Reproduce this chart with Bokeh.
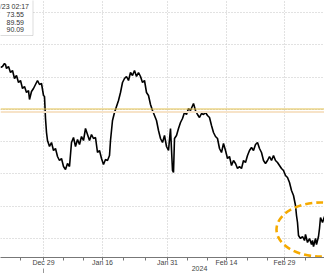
from bokeh.plotting import figure
from bokeh.models import Range1d, FixedTicker, BoxAnnotation, Label, Span, LinearAxis
from bokeh.embed import file_html
from bokeh.resources import INLINE

# ---- data (x = 4-hour bar index, y = price level in index points) ----
bars = [0, 2, 4, 5, 6, 8, 10, 12, 14, 16, 18, 20, 22, 24, 26, 28, 29, 31, 33, 35,
        37, 39, 41, 43, 44, 45, 46, 47, 49, 51, 53, 55, 57, 59, 61, 63, 65, 67, 69, 71,
        73, 75, 77, 79, 81, 83, 85, 87, 89, 91, 93, 95, 97, 99, 101, 103, 105, 107, 109, 110,
        112, 114, 116, 118, 120, 122, 124, 126, 128, 130, 132, 134, 136, 138, 140, 142, 144, 146, 148, 150,
        152, 154, 156, 158, 160, 162, 164, 166, 168, 170, 172, 173, 174, 176, 178, 180, 182, 184, 186, 188,
        190, 193, 195, 197, 199, 201, 203, 205, 207, 209, 211, 213, 215, 217, 219, 221, 223, 225, 227, 229,
        231, 233, 235, 237, 239, 241, 243, 245, 247, 249, 251, 253, 255, 257, 259, 261, 263, 265, 267, 269,
        271, 273, 275, 277, 279, 281, 283, 285, 287, 289, 291, 293, 295, 296, 297, 298, 300, 302, 304, 305,
        307, 309, 311, 312, 313, 315, 316, 318, 319, 320, 322, 324]
levels = [19.0, 19.1, 19.4, 19.3, 18.9, 19.1, 18.5, 18.7, 17.9, 18.2, 17.5, 17.7, 16.9, 17.1, 16.5, 16.7, 15.8, 16.6, 16.9, 17.3,
          17.7, 17.3, 17.4, 16.2, 16.1, 13.9, 12.5, 11.7, 11.1, 11.5, 10.7, 10.9, 10.1, 9.7, 9.9, 9.1, 8.8, 9.4, 9.1, 11.5,
          12.0, 11.1, 11.8, 11.3, 12.1, 11.7, 12.9, 12.3, 11.7, 12.3, 11.9, 12.0, 10.5, 10.7, 9.9, 9.3, 9.8, 9.7, 10.2, 11.7,
          13.7, 14.5, 15.1, 15.7, 16.5, 17.5, 17.9, 18.1, 17.7, 18.5, 18.2, 18.7, 18.1, 18.5, 18.1, 17.5, 17.7, 16.5, 16.2, 15.3,
          14.7, 14.2, 13.7, 12.7, 11.9, 11.5, 12.2, 11.1, 10.7, 12.9, 8.7, 8.5, 11.9, 12.2, 12.9, 13.5, 13.9, 14.5, 14.3, 14.9,
          14.7, 15.4, 14.7, 14.3, 14.0, 14.4, 14.3, 14.5, 14.2, 14.0, 13.2, 12.5, 12.1, 11.9, 10.9, 10.5, 11.4, 10.7, 9.9, 10.1,
          9.2, 9.7, 9.4, 8.9, 9.1, 8.9, 9.7, 9.5, 10.2, 10.7, 11.0, 10.7, 11.3, 11.5, 10.9, 10.5, 9.7, 9.4, 9.7, 10.1,
          9.7, 10.2, 9.7, 9.5, 9.2, 8.9, 8.7, 8.2, 8.0, 7.5, 6.7, 6.2, 5.2, 4.2, 3.5, 2.2, 1.9, 2.1, 1.7, 2.3,
          1.5, 1.9, 1.3, 1.7, 1.1, 1.9, 1.3, 2.1, 2.9, 4.0, 3.5, 4.1]

tick_bars = [43, 102, 167, 226, 284]
tick_labels = ["Dec 29", "Jan 16", "Jan 31", "Feb 14", "Feb 29"]
minor_bars = [20, 63, 83, 123, 145, 187, 207, 247, 267, 305]
year_bar = 199
year_label = "2024"
year_break_bar = 43
y_grid = [1.9, 5.1, 8.4, 11.6, 14.8, 18.0, 21.3, 24.5]
ref_level = 14.85
ref_band = 14.55
legend_lines = ["/23 02:17", "73.55", "89.59", "90.09"]

p = figure(width=324, height=273, output_backend="svg", toolbar_location=None,
           x_range=Range1d(0, 324), y_range=Range1d(0, 25.7),
           min_border_left=0, min_border_right=0, min_border_top=0, min_border_bottom=0)
p.background_fill_color = "white"
p.border_fill_color = "white"
p.outline_line_color = None

# grids
p.xgrid.ticker = FixedTicker(ticks=tick_bars)
p.ygrid.ticker = FixedTicker(ticks=y_grid)
for g in (p.xgrid, p.ygrid):
    g.grid_line_color = "#c4c4c4"
    g.grid_line_dash = "1 2"
    g.grid_line_width = 1

p.yaxis.visible = False
ax = p.xaxis[0]
ax.ticker = FixedTicker(ticks=tick_bars, minor_ticks=minor_bars)
ax.major_label_overrides = {b: l for b, l in zip(tick_bars, tick_labels)}
ax.axis_line_color = "#777777"
ax.major_tick_line_color = "#777777"
ax.minor_tick_line_color = "#777777"
ax.major_tick_in = 0
ax.major_tick_out = 3
ax.minor_tick_in = 0
ax.minor_tick_out = 3
ax.major_label_standoff = -2
ax.major_label_text_font = "Liberation Sans"
ax.major_label_text_font_size = "7px"
ax.major_label_text_color = "#444444"

# second axis row: year label and year-break tick
ax2 = LinearAxis(ticker=FixedTicker(ticks=[year_bar], minor_ticks=[year_break_bar]))
ax2.major_label_overrides = {year_bar: year_label}
ax2.axis_line_color = None
ax2.major_tick_line_color = None
ax2.major_tick_in = 0
ax2.major_tick_out = 0
ax2.minor_tick_line_color = "#999999"
ax2.minor_tick_in = 0
ax2.minor_tick_out = 7
ax2.major_label_standoff = -10
ax2.major_label_text_font = "Liberation Sans"
ax2.major_label_text_font_size = "7px"
ax2.major_label_text_color = "#444444"
p.add_layout(ax2, "below")

# reference lines
p.add_layout(Span(location=ref_band, dimension="width", line_color="#f7e3c8", line_width=2))
p.add_layout(Span(location=ref_level, dimension="width", line_color="#e2c04c", line_width=1))

p.line(bars, levels, line_color="black", line_width=1.6)

# dashed highlight ellipse
p.ellipse(x=[320], y=[2.8], width=88, height=5.4, fill_alpha=0,
          line_color="#f5aa00", line_width=2.6, line_dash="7 4")

# legend box (partially cut off)
p.add_layout(BoxAnnotation(left=-10, right=32.5, top=26, bottom=22.2,
                           fill_color="white", fill_alpha=1,
                           line_color="#8a8a8a", line_width=1, level="overlay"))
ys = [25.1, 24.3, 23.5, 22.8]
xs = [28.5, 23.5, 23.5, 23.5]
for t, xx, yy in zip(legend_lines, xs, ys):
    p.add_layout(Label(x=xx, y=yy, text=t, text_align="right", text_baseline="middle",
                       text_font="Liberation Sans", text_font_size="7px",
                       text_color="#333333", level="overlay"))

open("out.html", "w").write(file_html(p, INLINE))
